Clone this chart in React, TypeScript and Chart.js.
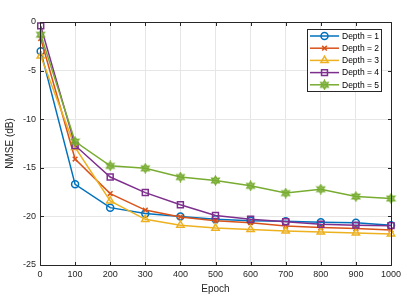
import React, { useEffect, useRef } from "react";
import { Chart, registerables } from "chart.js";
import { drawPoint } from "chart.js/helpers";

Chart.register(...registerables);

const epochs = [2, 100, 200, 300, 400, 500, 600, 700, 800, 900, 1000];
const depth1 = [-3.0, -16.7, -19.1, -19.7, -20.0, -20.3, -20.45, -20.5, -20.6, -20.65, -20.9];
const depth2 = [-1.7, -14.1, -17.65, -19.35, -20.05, -20.45, -20.65, -21.0, -21.15, -21.25, -21.4];
const depth3 = [-3.5, -12.9, -18.4, -20.3, -20.9, -21.2, -21.35, -21.5, -21.6, -21.7, -21.8];
const depth4 = [-0.4, -12.7, -15.95, -17.55, -18.8, -19.9, -20.3, -20.55, -20.8, -20.9, -20.95];
const depth5 = [-1.3, -12.3, -14.8, -15.05, -15.95, -16.3, -16.85, -17.6, -17.2, -17.95, -18.15];

const seriesLabels = ["Depth = 1", "Depth = 2", "Depth = 3", "Depth = 4", "Depth = 5"];
const seriesValues = [depth1, depth2, depth3, depth4, depth5];
const seriesColors = ["#0072BD", "#D95319", "#EDB120", "#7E2F8E", "#77AC30"];

const AXIS = "#262626";
const FONT = "'Liberation Sans', Arial, Helvetica, sans-serif";

function makeHexagram(color: string): HTMLCanvasElement {
  const c = document.createElement("canvas");
  c.width = 11;
  c.height = 11;
  const g = c.getContext("2d")!;
  const cx = 5.5, cy = 5.5, ro = 4.6, ri = 2.5;
  g.beginPath();
  for (let i = 0; i < 12; i++) {
    const r = i % 2 === 0 ? ro : ri;
    const a = -Math.PI / 2 + (i * Math.PI) / 6;
    const x = cx + r * Math.cos(a);
    const y = cy + r * Math.sin(a);
    if (i === 0) g.moveTo(x, y);
    else g.lineTo(x, y);
  }
  g.closePath();
  g.fillStyle = color;
  g.globalAlpha = 0.8;
  g.fill();
  g.globalAlpha = 1;
  g.strokeStyle = color;
  g.lineWidth = 1.1;
  g.stroke();
  return c;
}

export default function App() {
  const ref = useRef<HTMLCanvasElement | null>(null);

  useEffect(() => {
    document.body.style.margin = "0";
    const hex = makeHexagram(seriesColors[4]);
    const styles: any[] = [
      { pointStyle: "circle", radius: 3.5 },
      { pointStyle: "crossRot", radius: 3.3 },
      { pointStyle: "triangle", radius: 4.2 },
      { pointStyle: "rect", radius: 4.2 },
      { pointStyle: hex, radius: 4.5 },
    ];

    const datasets = seriesValues.map((vals, i) => ({
      label: seriesLabels[i],
      data: vals.map((v, j) => ({ x: epochs[j], y: v })),
      borderColor: seriesColors[i],
      backgroundColor: "rgba(0,0,0,0)",
      pointBackgroundColor: "rgba(0,0,0,0)",
      pointBorderColor: seriesColors[i],
      borderWidth: 1.5,
      pointBorderWidth: 1.5,
      pointStyle: styles[i].pointStyle,
      pointRadius: styles[i].radius,
      tension: 0,
      clip: 10,
      order: 4 - i,
    }));

    const framePlugin = {
      id: "frameAndLegend",
      afterDraw(chart: any) {
        const ctx = chart.ctx;
        const { left, right, top, bottom } = chart.chartArea;
        const xs = chart.scales.x;
        const ys = chart.scales.y;
        ctx.save();
        ctx.strokeStyle = AXIS;
        ctx.lineWidth = 1;
        const L = Math.round(left) + 0.5;
        const R = Math.round(right) + 0.5;
        const T = Math.round(top) + 0.5;
        const B = Math.round(bottom) + 0.5;
        ctx.beginPath();
        ctx.rect(L, T, R - L, B - T);
        ctx.stroke();
        const tl = 3.5;
        ctx.beginPath();
        xs.ticks.forEach((t: any) => {
          const px = Math.round(xs.getPixelForValue(t.value)) + 0.5;
          ctx.moveTo(px, B);
          ctx.lineTo(px, B - tl);
          ctx.moveTo(px, T);
          ctx.lineTo(px, T + tl);
        });
        ys.ticks.forEach((t: any) => {
          const py = Math.round(ys.getPixelForValue(t.value)) + 0.5;
          ctx.moveTo(L, py);
          ctx.lineTo(L + tl, py);
          ctx.moveTo(R, py);
          ctx.lineTo(R - tl, py);
        });
        ctx.stroke();

        // legend
        const bx = 307.5, by = 29.5, bw = 74, bh = 62;
        ctx.fillStyle = "#ffffff";
        ctx.fillRect(bx, by, bw, bh);
        ctx.strokeStyle = AXIS;
        ctx.strokeRect(bx, by, bw, bh);
        ctx.font = `8.5px ${FONT}`;
        ctx.textBaseline = "middle";
        ctx.textAlign = "left";
        for (let i = 0; i < seriesLabels.length; i++) {
          const y = 36 + i * 12.2;
          ctx.strokeStyle = seriesColors[i];
          ctx.lineWidth = 1.5;
          ctx.beginPath();
          ctx.moveTo(310, y);
          ctx.lineTo(339, y);
          ctx.stroke();
          ctx.fillStyle = "rgba(0,0,0,0)";
          drawPoint(ctx, {
            pointStyle: styles[i].pointStyle,
            rotation: 0,
            radius: styles[i].radius,
            borderWidth: 1.5,
          } as any, 324.5, y);
          ctx.fillStyle = "#000000";
          ctx.fillText(seriesLabels[i], 342, y + 0.5);
        }
        ctx.restore();
      },
    };

    const chart = new Chart(ref.current!, {
      type: "line",
      data: { datasets },
      options: {
        animation: false,
        responsive: false,
        devicePixelRatio: 1,
        layout: { padding: { top: 22, right: 16, left: 0, bottom: 0 } },
        plugins: { legend: { display: false }, tooltip: { enabled: false } },
        scales: {
          x: {
            type: "linear",
            min: 0,
            max: 1000,
            ticks: {
              stepSize: 100,
              color: AXIS,
              font: { family: FONT, size: 9 },
              padding: 4,
              maxRotation: 0,
              callback: (v: any) => String(v),
            },
            grid: { color: "#e6e6e6", drawTicks: false },
            border: { display: false },
            title: {
              display: true,
              text: "Epoch",
              color: AXIS,
              font: { family: FONT, size: 10 },
              padding: { top: 0, bottom: 10 },
            },
            afterFit(scale: any) {
              scale.height = 40;
            },
          },
          y: {
            type: "linear",
            min: -25,
            max: 0,
            ticks: {
              stepSize: 5,
              color: AXIS,
              font: { family: FONT, size: 9 },
              padding: 4,
              callback: (v: any) => String(v),
            },
            grid: { color: "#e6e6e6", drawTicks: false },
            border: { display: false },
            title: {
              display: true,
              text: "NMSE (dB)",
              color: AXIS,
              font: { family: FONT, size: 10 },
              padding: 4,
            },
            afterFit(scale: any) {
              scale.width = 40;
            },
          },
        },
      },
      plugins: [framePlugin],
    });
    return () => chart.destroy();
  }, []);

  return (
    <div style={{ position: "fixed", left: 0, top: 0, width: 407, height: 305, background: "#fff" }}>
      <canvas ref={ref} width={407} height={305} />
    </div>
  );
}
